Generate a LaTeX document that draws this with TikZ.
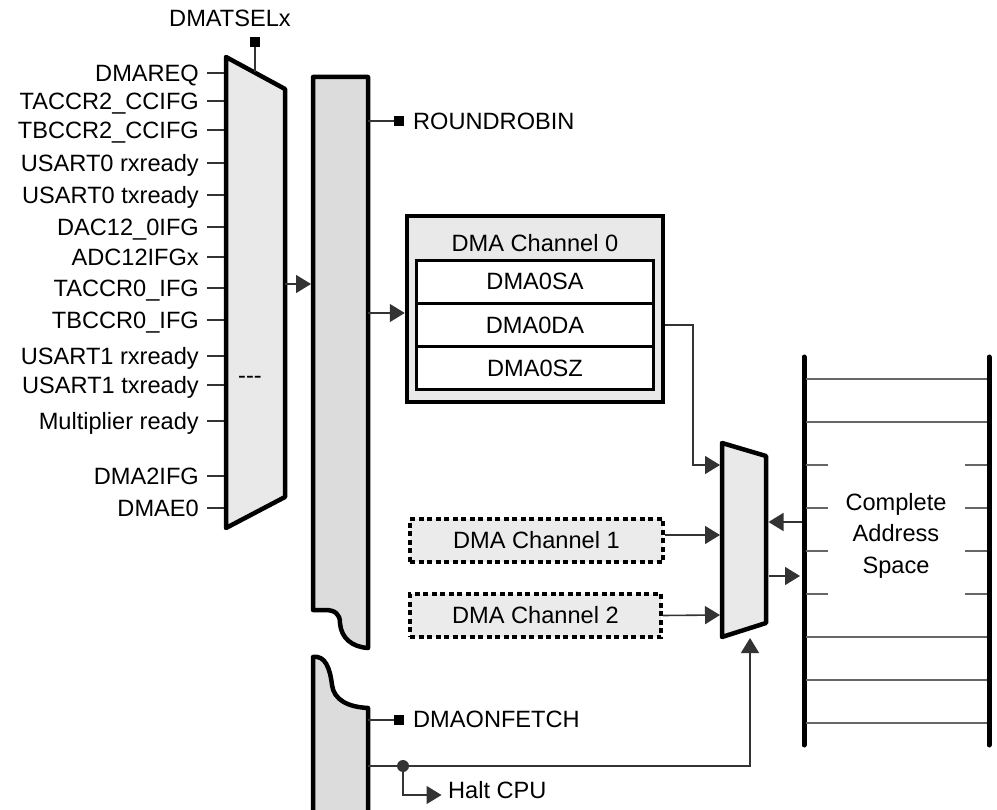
\documentclass[tikz,border=0pt]{standalone}
\usepackage{fontspec}
\setmainfont{Liberation Sans}
\usetikzlibrary{arrows.meta}
\definecolor{muxfill}{HTML}{E9E9E9}
\definecolor{barfill}{HTML}{DCDCDC}
\definecolor{dashfill}{HTML}{EBEBEB}
\definecolor{wirec}{HTML}{333333}
\definecolor{addrc}{HTML}{666666}
\begin{document}
\begin{tikzpicture}[x=1pt,y=-1pt,
  lbl/.style={font=\fontsize{23.6}{31.5}\selectfont, inner sep=0pt, text=black},
  heavy/.style={line width=4.5pt, line join=round, draw=black},
  wire/.style={line width=1.6pt, draw=wirec},
  arr/.style={wire, -{Triangle[length=15pt,width=18pt]}},
  addr/.style={line width=2pt, draw=addrc},
  sqr/.style={fill=black, minimum size=10pt, inner sep=0pt, draw=none},
  rowbox/.style={lbl, draw=black, line width=3pt, fill=white, minimum width=237pt, minimum height=43.3pt},
  dashbox/.style={lbl, draw=black, line width=3.5pt, dash pattern=on 5pt off 3.5pt, fill=dashfill, minimum height=43pt},
]
\useasboundingbox (0,0) rectangle (997,810);

% ---------- input multiplexer ----------
\draw[heavy, fill=muxfill] (226,57) -- (285,89) -- (285,497) -- (226,528) -- cycle;
\node[lbl] (dots) at (250,380) {-{}-{}-};

\foreach \y/\t [count=\i] in {73/DMAREQ, 101/TACCR2\_CCIFG, 130/TBCCR2\_CCIFG,
   163/USART0 rxready, 195/USART0 txready, 227/DAC12\_0IFG, 257/ADC12IFGx,
   288/TACCR0\_IFG, 320/TBCCR0\_IFG, 356/USART1 rxready, 385/USART1 txready,
   421/Multiplier ready, 476/DMA2IFG, 508/DMAE0}{
  \node[lbl, anchor=base east] (in\i) at (199,\y+8.5) {\t};
  \coordinate (tk\i) at (207,\y);
  \draw[wire] (tk\i) -- (224,\y);
}

% DMATSELx
\node[lbl, anchor=base] (seltxt) at (230,27) {DMATSELx};
\node[sqr] (selsq) at (255,42) {};
\coordinate (selend) at (255,72.5);
\draw[wire] (selsq.south) -- (selend);

% ---------- priority bar (upper part) ----------
\draw[heavy, fill=barfill] (313,77) -- (368,77) -- (368,648)
   .. controls (352,647) and (341,638) .. (340,623)
   .. controls (340,614) and (335,610) .. (325,610) -- (313,610) -- cycle;

% lower part
\draw[heavy, fill=barfill] (313,816) -- (313,657)
   .. controls (325,655) and (330,668) .. (332,685)
   .. controls (334,700) and (348,707) .. (368,708) -- (368,816) -- cycle;

\coordinate (muxout) at (285,284);
\coordinate (barin) at (311,284);
\draw[arr] (muxout) -- (barin);

% ROUNDROBIN
\node[sqr] (rrsq) at (399,121) {};
\node[lbl, anchor=base west] (rrtxt) at (413,129.5) {ROUNDROBIN};
\coordinate (rrs) at (368,121);
\draw[wire] (rrs) -- (rrsq.west);

% ---------- DMA channel 0 ----------
\node[draw=black, line width=4.5pt, fill=muxfill, minimum width=256pt, minimum height=186pt, inner sep=0pt] (ch0) at (535,309) {};
\node[lbl] (ch0t) at (535,243) {DMA Channel 0};
\node[rowbox] (sa) at (535,281.7) {DMA0SA};
\node[rowbox] (da) at (535,325) {DMA0DA};
\node[rowbox] (sz) at (535,368.3) {DMA0SZ};

\coordinate (barout) at (368,313);
\draw[arr] (barout) -- (ch0.west |- barout);

% ---------- DMA channels 1, 2 ----------
\node[dashbox, minimum width=253pt] (ch1) at (536.5,540.5) {DMA Channel 1};
\node[dashbox, minimum width=251pt] (ch2) at (535.5,615.5) {DMA Channel 2};

% ---------- address multiplexer ----------
\draw[heavy, fill=muxfill] (722,443) -- (766,456) -- (766,623) -- (722,637) -- cycle;
\coordinate (m2a) at (720,465);
\coordinate (m2b) at (720,535);
\coordinate (m2c) at (720,615);
\coordinate (m2bot) at (750,638);

\draw[arr] (ch0.east |- da) -- (693,325) |- (m2a);
\draw[arr] ([yshift=5.5pt]ch1.east) -- (m2b);
\draw[arr] (ch2.east) -- (m2c);

% ---------- address space ----------
\draw[line width=5pt, line cap=round] (804,357) -- (804,745);
\draw[line width=5pt, line cap=round] (989,357) -- (989,745);
\foreach \y in {379,422,637,680,723}{
  \draw[addr] (806,\y) -- (987,\y);
}
\foreach \y in {465,508,551,594}{
  \draw[addr] (806,\y) -- (828,\y);
  \draw[addr] (965,\y) -- (987,\y);
}
\node[lbl, align=center] (as) at (896,535.5) {Complete\\Address\\Space};

\coordinate (asin) at (801.5,522);
\coordinate (m2rin) at (768.5,522);
\coordinate (m2out) at (768.5,576);
\coordinate (asout) at (800,576);
\draw[arr] (asin) -- (m2rin);
\draw[arr] (m2out) -- (asout);

% ---------- bottom signals ----------
\node[sqr] (dofsq) at (399,720) {};
\node[lbl, anchor=base west] (doftxt) at (413,727) {DMAONFETCH};
\coordinate (dofs) at (368,720);
\draw[wire] (dofs) -- (dofsq.west);

\coordinate (hs) at (368,766);
\coordinate (dot) at (403,766);
\coordinate (haltend) at (441.5,795);
\draw[arr] (hs) -| (m2bot);
\fill[wirec] (dot) circle (6pt);
\draw[arr] (dot) |- (haltend);
\node[lbl, anchor=base west] (halt) at (448,798) {Halt CPU};

\end{tikzpicture}
\end{document}
